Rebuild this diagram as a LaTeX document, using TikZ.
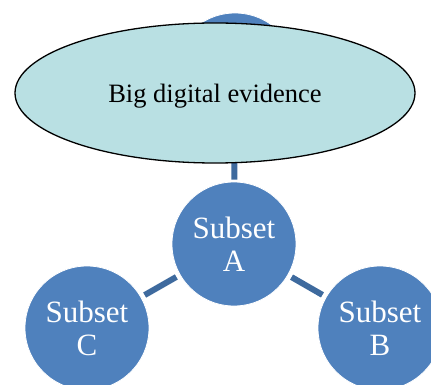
\documentclass[tikz,border=0pt]{standalone}
\usepackage{fontspec}
\setmainfont{Liberation Serif}
\usetikzlibrary{shapes.geometric}
\pgfdeclarelayer{bg}
\pgfsetlayers{bg,main}
\definecolor{circblue}{HTML}{4F81BD}
\definecolor{linkblue}{HTML}{3E6A9E}
\definecolor{ellfill}{HTML}{B9E0E3}
\tikzset{
  subset/.style={circle, fill=circblue, draw=white, line width=0.8pt, minimum size=124pt, inner sep=0pt,
    text=white, align=center, font=\fontsize{31}{33}\selectfont},
  link/.style={draw=linkblue, line width=6pt, shorten <=4pt, shorten >=4pt}
}
\begin{document}
\begin{tikzpicture}[x=1pt, y=-1pt]
\useasboundingbox (0,0) rectangle (431,385);
\clip (0,0) rectangle (431,385);
\node[ellipse, draw=black, line width=1.3pt, fill=ellfill, minimum width=400pt, minimum height=140pt, inner sep=0pt,
  text depth=0pt, font=\fontsize{26.5}{30}\selectfont] (big) at (215,93) {Big digital evidence};
\node[subset] (A) at (234,244) {Subset\\A};
\node[subset] (C) at (87,328) {Subset\\C};
\node[subset] (B) at (380,328) {Subset\\B};
\begin{pgfonlayer}{bg}
\node[subset] (top) at (235,75) {};
\draw[link, shorten <=0pt, shorten >=2pt] (top) -- (A);
\end{pgfonlayer}
\draw[link] (A) -- (C);
\draw[link] (A) -- (B);
\end{tikzpicture}
\end{document}
